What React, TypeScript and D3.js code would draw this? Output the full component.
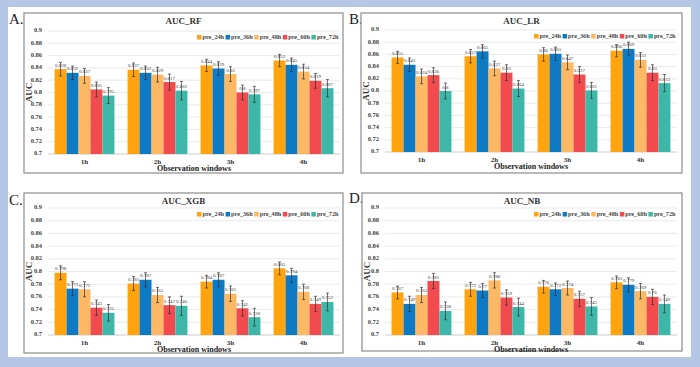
import * as d3 from 'd3'

const windows = ['1h', '2h', '3h', '4h']
const series = ['pre_24h', 'pre_36h', 'pre_48h', 'pre_60h', 'pre_72h']
const colors = ['#FFA30F', '#0E7AC4', '#FDB863', '#F24B4E', '#3DB8A8']
const yTicks = [0.7, 0.72, 0.74, 0.76, 0.78, 0.8, 0.82, 0.84, 0.86, 0.88, 0.9]

// values per window, one entry per series
const aucRF = [
  [0.838, 0.832, 0.827, 0.805, 0.795],
  [0.837, 0.832, 0.829, 0.817, 0.803],
  [0.844, 0.839, 0.83, 0.8, 0.797],
  [0.852, 0.845, 0.834, 0.819, 0.807],
]
const errRF = [
  [0.011, 0.011, 0.012, 0.012, 0.013],
  [0.011, 0.011, 0.012, 0.013, 0.015],
  [0.01, 0.011, 0.012, 0.012, 0.013],
  [0.01, 0.011, 0.012, 0.012, 0.014],
]
const aucLR = [
  [0.855, 0.843, 0.824, 0.826, 0.8],
  [0.857, 0.865, 0.837, 0.83, 0.804],
  [0.86, 0.861, 0.847, 0.827, 0.801],
  [0.866, 0.869, 0.851, 0.83, 0.813],
]
const errLR = [
  [0.01, 0.011, 0.012, 0.012, 0.013],
  [0.011, 0.011, 0.012, 0.013, 0.013],
  [0.011, 0.011, 0.012, 0.013, 0.013],
  [0.01, 0.011, 0.012, 0.013, 0.014],
]
const aucXGB = [
  [0.798, 0.773, 0.772, 0.743, 0.735],
  [0.781, 0.787, 0.763, 0.747, 0.746],
  [0.784, 0.787, 0.765, 0.742, 0.728],
  [0.805, 0.794, 0.768, 0.749, 0.752],
]
const errXGB = [
  [0.011, 0.011, 0.012, 0.012, 0.013],
  [0.011, 0.011, 0.012, 0.013, 0.015],
  [0.01, 0.011, 0.012, 0.012, 0.014],
  [0.01, 0.011, 0.012, 0.012, 0.014],
]
const aucNB = [
  [0.767, 0.749, 0.763, 0.785, 0.738],
  [0.772, 0.77, 0.786, 0.759, 0.744],
  [0.776, 0.772, 0.774, 0.757, 0.745],
  [0.783, 0.779, 0.769, 0.76, 0.749],
]
const errNB = [
  [0.01, 0.012, 0.012, 0.012, 0.014],
  [0.011, 0.011, 0.012, 0.012, 0.014],
  [0.01, 0.01, 0.011, 0.012, 0.014],
  [0.01, 0.011, 0.012, 0.012, 0.014],
]

const SERIF = '"Liberation Serif", "Times New Roman", serif'

function fmt(v: number) {
  return String(+v.toFixed(3))
}

type PanelProps = {
  letter: string
  title: string
  values: number[][]
  errors: number[][]
  box: [number, number, number, number]
  plot: [number, number, number, number] // left, right, top, bottom
  lx: number
  ly: number
}

function Panel({ letter, title, values, errors, box, plot, lx, ly }: PanelProps) {
  const [bx1, by1, bx2, by2] = box
  const [pl, pr, pt, pb] = plot

  const x = d3.scaleBand<string>().domain(windows).range([pl, pr]).paddingInner(0.18).paddingOuter(0.09)
  const xs = d3.scaleBand<string>().domain(series).range([0, x.bandwidth()])
  const y = d3.scaleLinear().domain([0.7, 0.9]).range([pb, pt])
  const cx = (bx1 + bx2) / 2

  const legendItem = 28.6
  const legendStart = pr - legendItem * series.length

  return (
    <g>
      <text x={lx} y={ly} style={{ fontSize: 15, fontFamily: SERIF, fill: '#222' }}>{letter}</text>
      <rect x={bx1} y={by1} width={bx2 - bx1} height={by2 - by1} fill="#fff" stroke="#8c8c8c" strokeWidth={1.2} />
      <text x={cx} y={by1 + 11} textAnchor="middle"
        style={{ fontSize: 9, fontWeight: 700, fontFamily: SERIF, fill: '#333' }}>{title}</text>

      {/* grid + y ticks */}
      {yTicks.map((t) => (
        <g key={t}>
          <line x1={pl} x2={pr} y1={y(t)} y2={y(t)} stroke={t === 0.7 ? '#bfbfbf' : '#e3e3e3'} strokeWidth={0.8} />
          <text x={pl - 6} y={y(t)} textAnchor="end" dominantBaseline="middle"
            style={{ fontSize: 6.5, fontWeight: 700, fontFamily: SERIF, fill: '#444' }}>{fmt(t)}</text>
        </g>
      ))}

      <text transform={`translate(${bx1 + 6},${(pt + pb) / 2}) rotate(-90)`} textAnchor="middle" dominantBaseline="middle"
        style={{ fontSize: 9, fontWeight: 700, fontFamily: SERIF, fill: '#333' }}>AUC</text>

      {/* bars */}
      {windows.map((w, i) => (
        <g key={w}>
          {series.map((s, j) => {
            const v = values[i][j]
            const e = errors[i][j]
            const bx = (x(w) ?? 0) + (xs(s) ?? 0)
            const bw = xs.bandwidth()
            const mx = bx + bw / 2
            return (
              <g key={s}>
                <rect x={bx} y={y(v)} width={bw} height={pb - y(v)} fill={colors[j]} />
                <line x1={mx} x2={mx} y1={y(v + e)} y2={y(v - e)} stroke="#333" strokeWidth={0.7} />
                <line x1={mx - 1.5} x2={mx + 1.5} y1={y(v + e)} y2={y(v + e)} stroke="#333" strokeWidth={0.7} />
                <line x1={mx - 1.5} x2={mx + 1.5} y1={y(v - e)} y2={y(v - e)} stroke="#333" strokeWidth={0.7} />
                <text x={mx} y={y(v) - 2.5} textAnchor="middle"
                  style={{ fontSize: 5, fontFamily: SERIF, fill: '#404040' }}>{fmt(v)}</text>
              </g>
            )
          })}
          <text x={(x(w) ?? 0) + x.bandwidth() / 2} y={pb + 9.5} textAnchor="middle"
            style={{ fontSize: 7, fontWeight: 700, fontFamily: SERIF, fill: '#333' }}>{w}</text>
        </g>
      ))}

      <text x={(pl + pr) / 2} y={pb + 17} textAnchor="middle"
        style={{ fontSize: 8, fontWeight: 700, fontFamily: SERIF, fill: '#222' }}>Observation windows</text>

      {/* legend */}
      {series.map((s, j) => {
        const lxp = legendStart + j * legendItem
        return (
          <g key={s}>
            <rect x={lxp} y={pt + 4} width={4.5} height={4.5} fill={colors[j]} />
            <text x={lxp + 5.5} y={pt + 8.3}
              style={{ fontSize: 6.2, fontWeight: 700, fontFamily: SERIF, fill: '#444' }}>{s}</text>
          </g>
        )
      })}
    </g>
  )
}

export default function App() {
  return (
    <svg width={700} height={367} style={{ position: 'absolute', left: 0, top: 0 }}>
      <rect x={0} y={0} width={700} height={367} fill="#B4C7E7" />
      <rect x={8} y={7} width={683} height={350} fill="#fff" />
      <Panel letter="A." title="AUC_RF" values={aucRF} errors={errRF}
        box={[24, 13, 343, 173]} plot={[48, 340, 31, 154]} lx={9} ly={24} />
      <Panel letter="B." title="AUC_LR" values={aucLR} errors={errLR}
        box={[361, 13, 682, 173]} plot={[385, 677, 30, 152]} lx={349} ly={24} />
      <Panel letter="C." title="AUC_XGB" values={aucXGB} errors={errXGB}
        box={[24, 193, 343, 353]} plot={[48, 340, 208, 335]} lx={9} ly={205} />
      <Panel letter="D." title="AUC_NB" values={aucNB} errors={errNB}
        box={[362, 193, 682, 351]} plot={[385, 677, 208, 335]} lx={349} ly={203} />
    </svg>
  )
}
